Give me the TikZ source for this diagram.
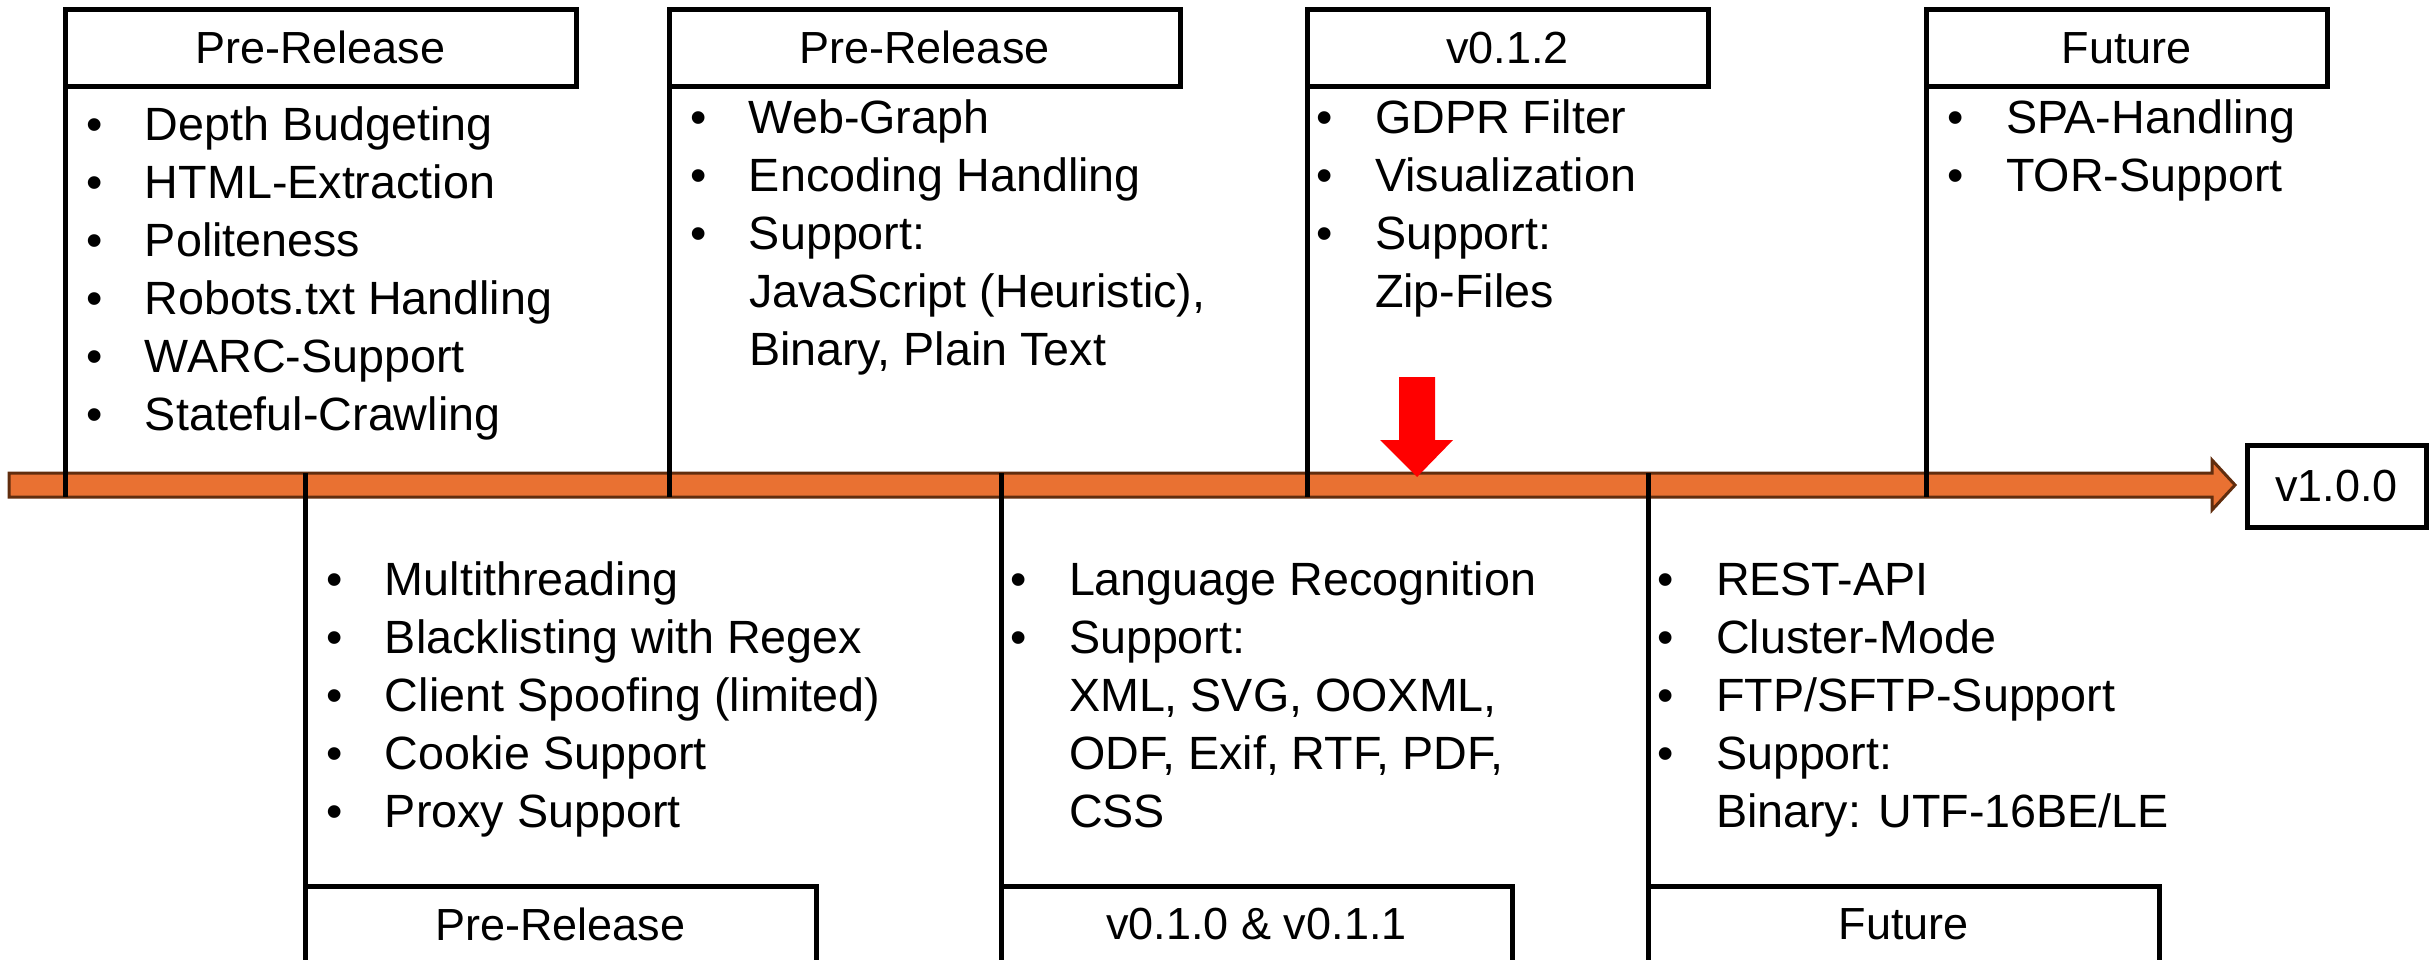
\documentclass[tikz,border=0pt]{standalone}
\usepackage{fontspec}
\setmainfont{Liberation Sans}
\definecolor{barfill}{RGB}{233,113,50}
\definecolor{bardraw}{RGB}{97,45,14}
\definecolor{markred}{RGB}{255,0,0}
\newcommand\bitem[4]{\node[itm] (#1) at (#2,#3) {\makebox[17.7pt][l]{\textbullet}#4};}
\newcommand\citem[4]{\node[itm] (#1) at (#2,#3) {\hspace*{17.7pt}#4};}
\begin{document}
\begin{tikzpicture}[x=0.3pt,y=-0.3pt,
  hdr/.style={draw,line width=1.5pt,minimum width=153.3pt,minimum height=22.95pt,
    inner sep=0pt,outer sep=0pt,font=\fontsize{13.5}{16}\selectfont},
  itm/.style={anchor=base west,inner sep=0pt,outer sep=0pt,font=\fontsize{14}{17}\selectfont},
  vline/.style={line width=1.5pt}]
\useasboundingbox (0,0) rectangle (2430,959);
\clip (0,0) rectangle (2430,959);

% timeline arrow
\draw[fill=barfill,draw=bardraw,line width=0.9pt]
  (9,473) -- (2212,473) -- (2212,460) -- (2235,485) -- (2212,510) -- (2212,497) -- (9,497) -- cycle;
\coordinate (bartop) at (0,473);
\coordinate (barbot) at (0,497);

\node[draw,line width=1.5pt,minimum width=53.7pt,minimum height=24.6pt,inner sep=0pt,outer sep=0pt,
  font=\fontsize{13.5}{16}\selectfont] (v1) at (2336.5,486) {v1.0.0};

% headers
\node[hdr] (hA) at (320.5,47.75) {Pre-Release};
\node[hdr] (hB) at (924.5,47.75) {Pre-Release};
\node[hdr,minimum width=120.3pt] (hC) at (1507.5,47.75) {v0.1.2};
\node[hdr,minimum width=120.3pt] (hD) at (2126.5,47.75) {Future};
\node[hdr] (hE) at (560.5,924.25) {Pre-Release};
\node[hdr] (hF) at (1256.5,924.25) {v0.1.0 \& v0.1.1};
\node[hdr] (hG) at (1903.5,924.25) {Future};

% connectors
\draw[vline] (hA.south west) -- (hA.south west |- barbot);
\draw[vline] (hB.south west) -- (hB.south west |- barbot);
\draw[vline] (hC.south west) -- (hC.south west |- barbot);
\draw[vline] (hD.south west) -- (hD.south west |- barbot);
\draw[vline] (hE.north west) -- (hE.north west |- bartop);
\draw[vline] (hF.north west) -- (hF.north west |- bartop);
\draw[vline] (hG.north west) -- (hG.north west |- bartop);

% red marker
\fill[markred] (1399,377) -- (1435,377) -- (1435,440) -- (1453,440) -- (1417,477) -- (1380,440) -- (1399,440) -- cycle;

% A
\bitem{a1}{86}{140}{Depth Budgeting}
\bitem{a2}{86}{198}{HTML-Extraction}
\bitem{a3}{86}{256}{Politeness}
\bitem{a4}{86}{314}{Robots.txt Handling}
\bitem{a5}{86}{372}{WARC-Support}
\bitem{a6}{86}{430}{Stateful-Crawling}
% B
\bitem{b1}{690}{133}{Web-Graph}
\bitem{b2}{690}{191}{Encoding Handling}
\bitem{b3}{690}{249}{Support:}
\citem{b4}{690}{307}{JavaScript (Heuristic),}
\citem{b5}{690}{365}{Binary, Plain Text}
% C
\bitem{c1}{1316}{133}{GDPR Filter}
\bitem{c2}{1316}{191}{Visualization}
\bitem{c3}{1316}{249}{Support:}
\citem{c4}{1316}{307}{Zip-Files}
% D
\bitem{d1}{1947}{133}{SPA-Handling}
\bitem{d2}{1947}{191}{TOR-Support}
% E
\bitem{e1}{326}{595}{Multithreading}
\bitem{e2}{326}{653}{Blacklisting with Regex}
\bitem{e3}{326}{711}{Client Spoofing (limited)}
\bitem{e4}{326}{769}{Cookie Support}
\bitem{e5}{326}{827}{Proxy Support}
% F
\bitem{f1}{1010}{595}{Language Recognition}
\bitem{f2}{1010}{653}{Support:}
\citem{f3}{1010}{711}{XML, SVG, OOXML,}
\citem{f4}{1010}{769}{ODF, Exif, RTF, PDF,}
\citem{f5}{1010}{827}{CSS}
% G
\bitem{g1}{1657}{595}{REST-API}
\bitem{g2}{1657}{653}{Cluster-Mode}
\bitem{g3}{1657}{711}{FTP/SFTP-Support}
\bitem{g4}{1657}{769}{Support:}
\citem{g5}{1657}{827}{Binary: UTF-16BE/LE}
\end{tikzpicture}
\end{document}
